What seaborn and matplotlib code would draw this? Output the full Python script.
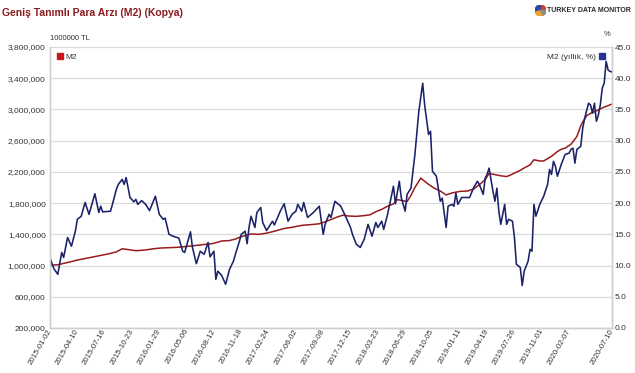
import numpy as np
import pandas as pd
import matplotlib
matplotlib.use("Agg")
import matplotlib.pyplot as plt
import seaborn as sns
from matplotlib.lines import Line2D
from matplotlib.patches import Wedge
from matplotlib.ticker import FuncFormatter

# ---------------- data ----------------
start_date = "2015-01-02"   # weekly series, week index counted from this date

tick_labels = ["2015-01-02", "2015-04-10", "2015-07-16", "2015-10-23", "2016-01-29",
               "2016-05-06", "2016-08-12", "2016-11-18", "2017-02-24", "2017-06-02",
               "2017-09-08", "2017-12-15", "2018-03-23", "2018-06-29", "2018-10-05",
               "2019-01-11", "2019-04-19", "2019-07-26", "2019-11-01", "2020-02-07",
               "2020-07-10"]

# M2 level (left axis), week index and value
m2_week = [0, 4, 10, 14, 20, 26, 30, 34, 37, 40, 44, 49, 53, 57, 62, 66, 70, 74, 79, 83,
           86, 88, 92, 95, 97, 100, 103, 107, 111, 115, 120, 124, 129, 134, 138, 141, 144,
           147, 150, 153, 157, 161, 164, 167, 170, 173, 176, 178, 181, 183, 185, 187, 189,
           190, 192, 194, 197, 200, 203, 206, 210, 214, 217, 220, 223, 225, 228, 231, 234,
           236, 238, 241, 243, 246, 248, 251, 253, 255, 257, 260, 262, 264, 267, 269, 270,
           272, 273, 275, 277, 279, 281, 283, 285, 288]
m2_level = [1005000, 1010000, 1045000, 1070000, 1100000, 1130000, 1150000, 1175000, 1215000,
            1205000, 1190000, 1200000, 1215000, 1225000, 1230000, 1235000, 1245000, 1255000,
            1270000, 1280000, 1300000, 1315000, 1320000, 1340000, 1360000, 1385000, 1405000,
            1400000, 1415000, 1440000, 1475000, 1490000, 1515000, 1525000, 1535000, 1560000,
            1590000, 1620000, 1645000, 1635000, 1630000, 1640000, 1650000, 1690000, 1720000,
            1760000, 1790000, 1845000, 1830000, 1820000, 1900000, 2000000, 2080000, 2120000,
            2080000, 2040000, 1990000, 1955000, 1905000, 1930000, 1950000, 1955000, 1980000,
            2035000, 2100000, 2180000, 2165000, 2150000, 2140000, 2160000, 2185000, 2220000,
            2250000, 2290000, 2355000, 2340000, 2340000, 2370000, 2400000, 2460000, 2490000,
            2505000, 2555000, 2620000, 2655000, 2790000, 2840000, 2920000, 2950000, 2970000,
            2995000, 3020000, 3040000, 3068000]

# M2 annual growth (right axis, %), week index and value
growth_week = [0, 2, 4, 6, 7, 9, 11, 13, 14, 16, 18, 20, 23, 25, 26, 27, 31, 32, 34, 35, 37,
               38, 39, 41, 43, 44, 45, 47, 49, 51, 54, 56, 58, 59, 61, 63, 66, 68, 69, 72, 73,
               75, 77, 79, 81, 82, 84, 85, 86, 88, 90, 92, 94, 95, 97, 98, 100, 101, 102, 103,
               105, 106, 108, 109, 111, 114, 115, 118, 120, 122, 124, 126, 127, 129, 130, 132,
               135, 138, 140, 141, 143, 144, 146, 149, 151, 154, 155, 157, 159, 161, 163, 165,
               167, 168, 170, 171, 173, 176, 177, 179, 180, 182, 183, 185, 187, 189, 191, 192,
               194, 195, 196, 198, 200, 201, 203, 204, 206, 207, 208, 209, 211, 213, 215, 217,
               219, 220, 222, 223, 224, 225, 227, 228, 229, 230, 231, 233, 234, 235, 237, 238,
               239, 241, 242, 243, 245, 246, 247, 248, 249, 251, 253, 255, 256, 257, 258, 259,
               260, 262, 264, 266, 267, 268, 269, 270, 272, 273, 274, 276, 277, 278, 279, 280,
               281, 282, 283, 284, 285, 286, 287, 288]
growth_pct = [11.2, 9.5, 8.6, 12.1, 11.3, 14.5, 13.1, 15.5, 17.4, 17.9, 20.1, 18.2, 21.5, 18.5,
              19.5, 18.6, 18.7, 19.8, 22.2, 23.0, 23.8, 23.0, 24.1, 20.9, 20.2, 20.6, 19.8, 20.4,
              19.8, 18.8, 21.1, 18.2, 17.4, 17.6, 15.0, 14.7, 14.4, 12.3, 12.1, 15.4, 12.9, 10.3,
              12.3, 11.8, 13.7, 11.4, 12.3, 7.8, 9.1, 8.4, 7.0, 9.4, 10.7, 11.8, 13.8, 15.0, 15.5,
              13.5, 16.1, 17.9, 16.1, 18.5, 19.3, 16.9, 15.6, 17.1, 16.5, 18.7, 19.9, 17.1, 18.2,
              18.7, 19.8, 18.7, 20.1, 17.7, 18.5, 19.5, 15.0, 16.6, 18.2, 17.7, 20.3, 19.5, 18.2,
              16.1, 15.0, 13.4, 12.9, 14.2, 16.6, 14.7, 16.9, 16.1, 17.1, 15.8, 18.2, 22.7, 19.9,
              23.5, 20.9, 18.7, 21.4, 22.4, 27.8, 34.7, 39.2, 35.7, 31.0, 31.5, 25.1, 24.3, 20.3,
              20.8, 16.1, 19.5, 19.8, 19.5, 21.6, 19.8, 20.9, 20.9, 20.9, 22.4, 23.5, 23.0, 21.4,
              24.0, 24.6, 25.6, 21.9, 20.3, 22.4, 18.7, 16.6, 19.8, 16.6, 17.4, 17.1, 14.5, 10.2,
              9.7, 6.8, 9.1, 10.7, 12.6, 12.3, 19.8, 17.9, 19.8, 21.1, 23.0, 25.4, 24.6, 26.7,
              25.9, 24.3, 26.2, 27.8, 28.0, 28.6, 28.8, 26.4, 28.6, 29.1, 32.0, 33.6, 36.0, 35.7,
              34.4, 36.0, 33.1, 34.1, 35.7, 38.4, 39.2, 42.7, 41.3, 41.1, 41.0]

# ---------------- tables ----------------
t0 = pd.Timestamp(start_date)
df_level = pd.DataFrame({"date": t0 + pd.to_timedelta(np.array(m2_week) * 7, unit="D"),
                         "M2": m2_level})
df_growth = pd.DataFrame({"date": t0 + pd.to_timedelta(np.array(growth_week) * 7, unit="D"),
                          "M2 (yıllık, %)": growth_pct})
tick_dates = pd.to_datetime(tick_labels)

# ---------------- style ----------------
sns.set_theme(style="white")
plt.rcParams["font.family"] = ["Liberation Sans", "DejaVu Sans"]

RED = "#981b1e"
BLUE = "#1a2268"
GRID = "#d9d9d9"
TXT = "#333333"

fig = plt.figure(figsize=(6.35, 3.73), dpi=100)
ax = fig.add_axes([50 / 635, 1 - 328 / 373, 562 / 635, 281 / 373])
ax2 = ax.twinx()

sns.lineplot(data=df_level, x="date", y="M2", ax=ax, color=RED, linewidth=1.1)
sns.lineplot(data=df_growth, x="date", y="M2 (yıllık, %)", ax=ax2, color=BLUE, linewidth=1.15)

ax.set_xlim(t0, df_level["date"].iloc[-1])
ax.set_ylim(200000, 3800000)
ax.set_yticks(np.arange(200000, 3800001, 400000))
ax.yaxis.set_major_formatter(FuncFormatter(lambda v, p: f"{int(v):,}"))
ax2.set_ylim(0, 45)
ax2.set_yticks(np.arange(0, 45.1, 5))
ax2.yaxis.set_major_formatter(FuncFormatter(lambda v, p: f"{v:.1f}"))

ax.set_xticks(tick_dates)
ax.set_xticklabels(tick_labels, rotation=60, ha="right", va="center",
                   rotation_mode="anchor", fontsize=5.6, color=TXT)
ax.set_xlabel("")
ax.set_ylabel("")
ax2.set_ylabel("")

ax.grid(axis="y", color=GRID, linewidth=0.9)
ax.grid(axis="x", visible=False)
ax2.grid(False)
ax.tick_params(axis="both", length=0, labelsize=6, labelcolor=TXT)
ax.tick_params(axis="x", pad=1, labelsize=5.6)
ax.tick_params(axis="y", pad=3)
ax2.tick_params(axis="y", length=0, labelsize=6, labelcolor=TXT, pad=2)

for a in (ax, ax2):
    for side in ("left", "right", "bottom"):
        a.spines[side].set_color("#cfcfcf")
        a.spines[side].set_linewidth(1.0)
    a.spines["top"].set_visible(False)

# legends
h1 = [Line2D([], [], marker="s", color="#c8161d", linestyle="none", markersize=5)]
h2 = [Line2D([], [], marker="s", color="#27318f", linestyle="none", markersize=5)]
ax.legend(h1, ["M2"], loc="upper left", frameon=False, fontsize=6,
          handletextpad=0.2, borderaxespad=0.3, handlelength=1.0, labelcolor=TXT)
ax2.legend(h2, ["M2 (yıllık, %)"], loc="upper right", frameon=False, fontsize=6,
           handletextpad=0.2, borderaxespad=0.3, handlelength=1.0, markerfirst=False,
           labelcolor=TXT)

# texts
fig.text(2 / 635, 1 - 13 / 373, "Geniş Tanımlı Para Arzı (M2) (Kopya)", color="#8a1a1e",
         fontsize=7.5, fontweight="bold", va="center", ha="left")
fig.text(50 / 635, 1 - 38 / 373, "1000000 TL", fontsize=5.5, color=TXT, va="center", ha="left")
fig.text(611 / 635, 1 - 35 / 373, "%", fontsize=5.5, color=TXT, va="center", ha="right")
fig.text(547 / 635, 1 - 10 / 373, "TURKEY DATA MONITOR",
         fontsize=5.0, fontweight="bold", color="#2a2a2a", va="center", ha="left")

# small logo mark
lax = fig.add_axes([535 / 635, 1 - 16 / 373, 11 / 635, 11 / 373])
lax.set_xlim(-1, 1)
lax.set_ylim(-1, 1)
lax.set_aspect("equal")
lax.axis("off")
for (a1, a2, c) in [(0, 90, "#e03a2f"), (90, 200, "#2c4aa0"), (200, 300, "#f2a12a"),
                    (300, 360, "#8c8c8c")]:
    lax.add_patch(Wedge((0, 0), 1, a1, a2, color=c))

fig.savefig("out.png", dpi=100)
